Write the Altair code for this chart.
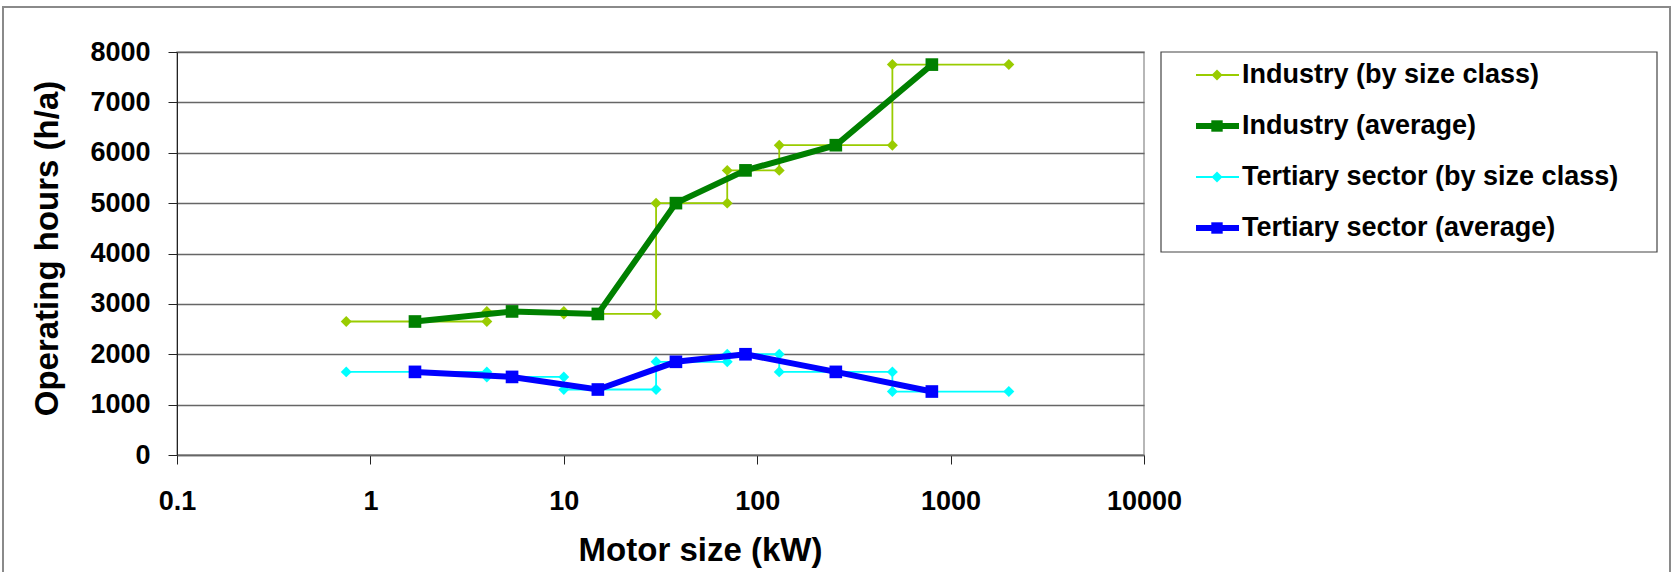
import altair as alt
import pandas as pd

# ---- data ----
class_bounds = [0.75, 4, 10, 30, 70, 130, 500, 2000]          # kW, size-class limits
industry_by_class = [2650, 2850, 2800, 5000, 5650, 6150, 7750]  # h/a
tertiary_by_class = [1650, 1550, 1300, 1850, 2000, 1650, 1260]  # h/a
avg_sizes = [1.7, 5.4, 15, 38, 87, 255, 800]                   # kW
industry_avg = [2650, 2850, 2800, 5000, 5650, 6150, 7750]       # h/a
tertiary_avg = [1650, 1550, 1300, 1850, 2000, 1650, 1260]       # h/a

x_ticks = [0.1, 1, 10, 100, 1000, 10000]
y_ticks = [0, 1000, 2000, 3000, 4000, 5000, 6000, 7000, 8000]

series_names = [
    "Industry (by size class)",
    "Industry (average)",
    "Tertiary sector (by size class)",
    "Tertiary sector (average)",
]
series_colors = ["#99CC00", "#008000", "#00FFFF", "#0000FF"]

FONT = "Liberation Sans"


def step_table(values):
    rows = []
    k = 0
    for i, v in enumerate(values):
        rows.append({"size": class_bounds[i], "hours": v, "order": k}); k += 1
        rows.append({"size": class_bounds[i + 1], "hours": v, "order": k}); k += 1
    return pd.DataFrame(rows)


ind_cls = step_table(industry_by_class)
ter_cls = step_table(tertiary_by_class)
ind_avg = pd.DataFrame({"size": avg_sizes, "hours": industry_avg, "order": range(len(avg_sizes))})
ter_avg = pd.DataFrame({"size": avg_sizes, "hours": tertiary_avg, "order": range(len(avg_sizes))})

W, H = 967, 403

x_enc = alt.X(
    "size:Q",
    scale=alt.Scale(type="log", domain=[0.1, 10000], nice=False),
    axis=alt.Axis(
        values=x_ticks, format="~g", grid=False, title="Motor size (kW)",
        titleX=523, titleY=95, titleBaseline="middle", titleAlign="center",
        domainColor="#666666", domainWidth=1.6, tickColor="#222222", tickSize=9,
        labelPadding=24, labelFlush=False, labelOverlap=False,
    ),
)
y_enc = alt.Y(
    "hours:Q",
    scale=alt.Scale(domain=[0, 8000], nice=False),
    axis=alt.Axis(
        values=y_ticks, format="d", grid=True, title="Operating hours (h/a)",
        titleX=-130, titleY=196, titleBaseline="middle", titleAlign="center",
        gridColor="#666666", gridWidth=1.6, domainColor="#222222", tickColor="#222222",
        tickSize=9, labelPadding=18, labelFlush=False, labelOverlap=False,
    ),
)


def series(df, color, width, shape, size):
    line = alt.Chart(df).mark_line(color=color, strokeWidth=width).encode(
        x=x_enc, y=y_enc, order="order:Q")
    pts = alt.Chart(df).mark_point(color=color, filled=True, opacity=1, shape=shape, size=size).encode(
        x=x_enc, y=y_enc)
    return [line, pts]


one = pd.DataFrame({"a": [0]})
frame = alt.Chart(one).mark_rect(fill="white", fillOpacity=0, stroke="#8a8a8a", strokeWidth=2).encode(
    x=alt.value(-174), x2=alt.value(1493), y=alt.value(-45), y2=alt.value(560))

layers = [frame]
layers += series(ind_cls, series_colors[0], 1.8, "diamond", 120)
layers += series(ind_avg, series_colors[1], 6, "square", 160)
layers += series(ter_cls, series_colors[2], 1.8, "diamond", 120)
layers += series(ter_avg, series_colors[3], 6, "square", 160)

# legend box
layers.append(alt.Chart(one).mark_rect(fill="white", stroke="#444444", strokeWidth=1.2).encode(
    x=alt.value(984), x2=alt.value(1480), y=alt.value(0), y2=alt.value(200)))
legend_y = [23, 74, 125, 176]
legend_w = [1.8, 6, 1.8, 6]
legend_shape = ["diamond", "square", "diamond", "square"]
legend_size = [120, 130, 120, 130]
for i, name in enumerate(series_names):
    layers.append(alt.Chart(one).mark_rule(color=series_colors[i], strokeWidth=legend_w[i]).encode(
        x=alt.value(1019), x2=alt.value(1062), y=alt.value(legend_y[i])))
    layers.append(alt.Chart(one).mark_point(color=series_colors[i], filled=True, opacity=1,
                                            shape=legend_shape[i], size=legend_size[i]).encode(
        x=alt.value(1040), y=alt.value(legend_y[i])))
    layers.append(alt.Chart(pd.DataFrame({"t": [name]})).mark_text(
        align="left", baseline="middle", font=FONT, fontSize=27, fontWeight="bold",
        color="black").encode(
        x=alt.value(1065), y=alt.value(legend_y[i]), text="t:N"))

chart = alt.layer(*layers).properties(
    width=W, height=H,
    autosize=alt.AutoSizeParams(type="none"),
    padding={"left": 177, "top": 52, "right": 1676 - 177 - W, "bottom": 572 - 52 - H},
    background="white",
).configure_view(stroke="#a0a0a0", strokeWidth=1.5).configure_axis(
    labelFont=FONT, labelFontSize=27, labelFontWeight="bold", labelColor="black",
    titleFont=FONT, titleFontSize=33, titleFontWeight="bold", titleColor="black",
)

chart.save("out.html", embed_options={"renderer": "svg", "actions": False})
